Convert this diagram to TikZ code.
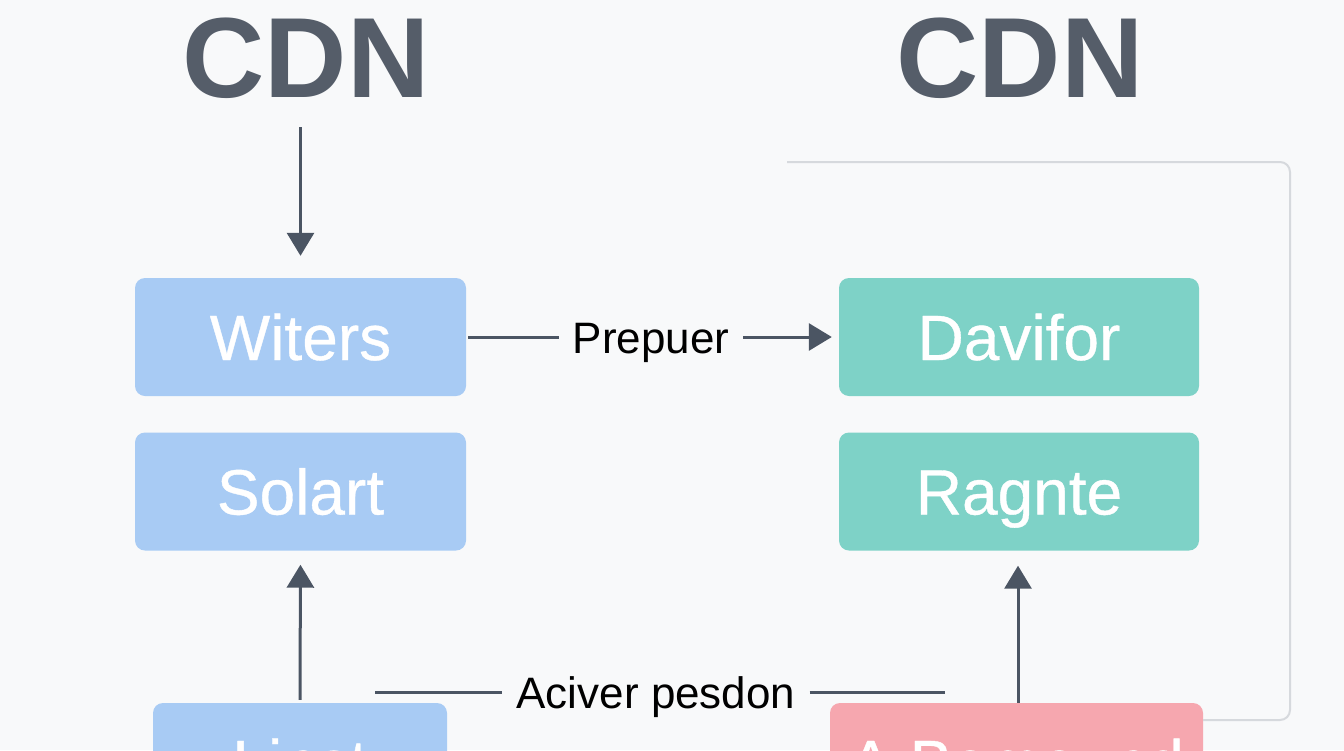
\documentclass[tikz,border=0pt]{standalone}
\usepackage{fontspec}
\setmainfont{Liberation Sans}
\newfontfamily\boxfont{Liberation Sans}[FakeBold=0.6]
\usetikzlibrary{arrows.meta}

\definecolor{bgcol}{HTML}{F8F9FA}
\definecolor{inkcol}{HTML}{4B5563}
\definecolor{titlecol}{HTML}{555D69}
\definecolor{bluecol}{HTML}{A8CBF4}
\definecolor{tealcol}{HTML}{7ED2C7}
\definecolor{pinkcol}{HTML}{F6A7AF}
\definecolor{framecol}{HTML}{D6D9DD}

\tikzset{
  box/.style={rounded corners=10pt, inner sep=0pt, minimum height=118pt,
    text=white, text height=46pt, text depth=0pt,
    font=\boxfont\fontsize{64}{70}\selectfont},
  bluebox/.style={box, fill=bluecol},
  tealbox/.style={box, fill=tealcol},
  pinkbox/.style={box, fill=pinkcol},
  title/.style={inner sep=0pt, text=titlecol, text height=82pt, text depth=0pt,
    font=\fontsize{114}{120}\selectfont\bfseries},
  lbl/.style={inner sep=14pt, text=black, text height=32pt, text depth=0pt,
    font=\fontsize{44}{50}\selectfont},
  arr/.style={draw=inkcol, line width=3pt, -{Triangle[width=27pt,length=23pt]}},
  link/.style={draw=inkcol, line width=3pt}
}

\begin{document}
\begin{tikzpicture}[x=1pt,y=-1pt]
   \fill[bgcol] (0,0) rectangle (1344,750);
   \useasboundingbox (0,0) rectangle (1344,750);

   \node[title] (cdnL) at (306,56) {CDN};
   \node[title] (cdnR) at (1020,56) {CDN};

   \node[bluebox, minimum width=331pt] (witers) at (300.5,337) {Witers};
   \node[bluebox, minimum width=331pt] (solart) at (300.5,491.5) {Solart};
   \node[bluebox, minimum width=294pt] (lint) at (300,762) {Linst};

   \node[tealbox, minimum width=360pt] (davifor) at (1019,337) {Davifor};
   \node[tealbox, minimum width=360pt] (ragnte) at (1019,491.5) {Ragnte};
   \node[pinkbox, minimum width=373pt] (abased) at (1016.5,762) {A Bemound};

   \node[lbl] (prep) at (651,337) {Prepuer};
   \node[lbl] (acip) at (656,692) {Aciver pesdon};
   \coordinate (aciL) at (375,692);
   \coordinate (aciR) at (945,692);
   \coordinate (frm) at (787,162);

   % frame round the right column
   \draw[framecol, line width=2pt, rounded corners=10pt]
      (frm) -| (1290,720) -- (abased.east |- 0,720);

   \draw[arr, shorten <=30pt, shorten >=22pt] (cdnL.south -| witers.north) -- (witers.north);
   \draw[link, shorten <=2pt] (witers.east) -- (prep.west);
   \draw[arr, shorten >=7pt] (prep.east) -- (davifor.west);
   \draw[arr, shorten <=3pt, shorten >=14pt] (lint.north) -- (solart.south);
   \draw[arr, shorten >=15pt] (abased.north -| 1018,0) -- (ragnte.south -| 1018,0);
   \draw[link] (aciL) -- (acip.west);
   \draw[link] (acip.east) -- (aciR);
\end{tikzpicture}
\end{document}
